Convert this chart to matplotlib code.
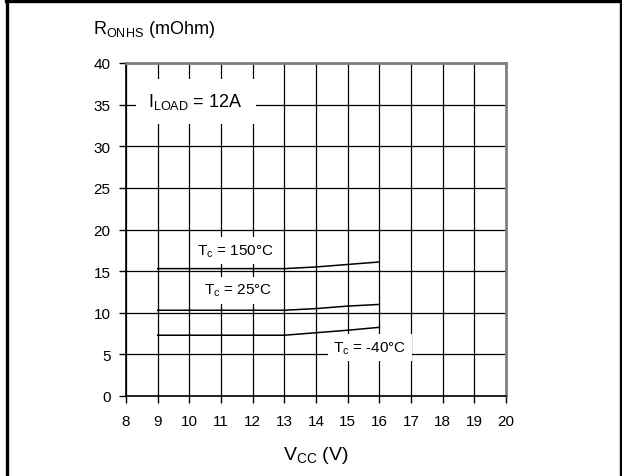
import matplotlib
matplotlib.use("Agg")
from matplotlib import pyplot as plt
from matplotlib.lines import Line2D

plt.rcParams["font.family"] = ["Liberation Sans", "DejaVu Sans"]
plt.rcParams["mathtext.default"] = "regular"

# V_CC (V) vs R_ONHS (mOhm)
vcc = [9, 13, 14, 15, 16]
r_150 = [15.3, 15.3, 15.5, 15.8, 16.1]
r_25 = [10.3, 10.3, 10.5, 10.8, 11.0]
r_m40 = [7.3, 7.3, 7.6, 7.9, 8.25]

xticks = list(range(8, 21))
yticks = list(range(0, 41, 5))

fig = plt.figure(figsize=(6.22, 4.77), dpi=100)
ax = fig.add_axes([126 / 622, 1 - 397 / 477, 380 / 622, 333 / 477])

for ys in (r_150, r_25, r_m40):
    ax.plot(vcc, ys, color="black", lw=1.1, zorder=4)

ax.set_xlim(8, 20)
ax.set_ylim(0, 40)
ax.set_xticks(xticks)
ax.set_yticks(yticks)
ax.tick_params(direction="out", length=5, width=1, labelsize=11, pad=6)
ax.tick_params(axis="x", pad=8)
ax.grid(True, color="black", lw=0.9, zorder=0)
ax.set_axisbelow(True)
for s in ("left", "bottom"):
    ax.spines[s].set_color("black")
    ax.spines[s].set_linewidth(1.2)
for s in ("top", "right"):
    ax.spines[s].set_color("#808080")
    ax.spines[s].set_linewidth(2)

box = dict(facecolor="white", edgecolor="none", boxstyle="square,pad=0.35")
ax.text(10.2, 35.4, r"I$_{LOAD}$ = 12A", fontsize=13, ha="center", va="center",
        bbox=dict(facecolor="white", edgecolor="none", boxstyle="square,pad=0.7"), zorder=5)
ax.text(11.45, 17.5, r"T$_{c}$ = 150°C", fontsize=11, ha="center", va="center", bbox=box, zorder=5)
ax.text(11.55, 12.7, r"T$_{c}$ = 25°C", fontsize=11, ha="center", va="center", bbox=box, zorder=5)
ax.text(15.7, 5.8, r"T$_{c}$ = -40°C", fontsize=11, ha="center", va="center", bbox=box, zorder=5)

fig.text(93 / 622, 1 - 30 / 477, r"R$_{ONHS}$ (mOhm)", fontsize=13, ha="left", va="center")
fig.text(316 / 622, 1 - 456 / 477, r"V$_{CC}$ (V)", fontsize=14, ha="center", va="center")

# outer frame (left, top, right)
fig.add_artist(Line2D([7.5 / 622, 7.5 / 622], [0, 1 - 2 / 477], color="black", lw=2.4))
fig.add_artist(Line2D([6 / 622, 1], [1 - 2 / 477, 1 - 2 / 477], color="black", lw=2.4))
fig.add_artist(Line2D([621 / 622, 621 / 622], [0, 1 - 2 / 477], color="black", lw=2.4))

fig.savefig("out.png", dpi=100)
